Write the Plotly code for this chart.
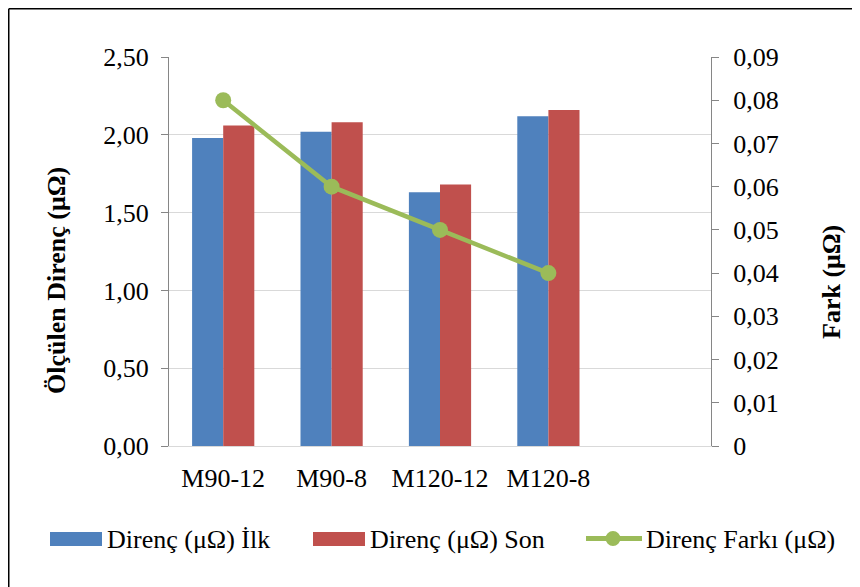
import plotly.graph_objects as go

categories = ["M90-12", "M90-8", "M120-12", "M120-8"]
ilk = [1.98, 2.02, 1.63, 2.12]
son = [2.06, 2.08, 1.68, 2.16]
fark = [0.08, 0.06, 0.05, 0.04]

series_names = ["Direnç (μΩ) İlk", "Direnç (μΩ) Son", "Direnç Farkı (μΩ)"]
series_colors = ["#4F81BD", "#C0504D", "#9BBB59"]

y_ticks = [0, 0.5, 1.0, 1.5, 2.0, 2.5]
y2_ticks = [0, 0.01, 0.02, 0.03, 0.04, 0.05, 0.06, 0.07, 0.08, 0.09]
y2_text = ["0", "0,01", "0,02", "0,03", "0,04", "0,05", "0,06", "0,07", "0,08", "0,09"]

FONT = "Liberation Serif"
FS = 26

# page body has an 8px margin; the figure is sized to fill the rest of the window
OFF = 8
W, H = 860 - OFF, 587 - OFF
# plot area in window pixels: x 169..711, y 57..446
L, R, T, B = 169 - OFF, 860 - 711, 57 - OFF, 587 - 446
pw, ph = W - L - R, H - T - B


def px(x):  # window px -> paper x
    return (x - OFF - L) / pw


def py(y):  # window px -> paper y
    return (H - B - (y - OFF)) / ph


fig = go.Figure()
fig.add_trace(go.Bar(x=categories, y=ilk, name=series_names[0],
                     marker=dict(color=series_colors[0], line=dict(width=0))))
fig.add_trace(go.Bar(x=categories, y=son, name=series_names[1],
                     marker=dict(color=series_colors[1], line=dict(width=0))))
fig.add_trace(go.Scatter(x=categories, y=fark, name=series_names[2], yaxis="y2",
                         mode="lines+markers",
                         line=dict(color=series_colors[2], width=4.5),
                         marker=dict(color=series_colors[2], size=16)))

# legend drawn as a row of keys + texts below the plot (Excel style)
shapes = [
    dict(type="line", xref="paper", yref="paper", x0=px(8.75), x1=px(875),
         y0=py(8.75), y1=py(8.75), line=dict(color="black", width=1.5)),
    dict(type="line", xref="paper", yref="paper", x0=px(8.75), x1=px(8.75),
         y0=py(8.75), y1=py(620), line=dict(color="black", width=1.5)),
    dict(type="rect", xref="paper", yref="paper", x0=px(50), x1=px(102),
         y0=py(546), y1=py(532), line=dict(width=0), fillcolor=series_colors[0]),
    dict(type="rect", xref="paper", yref="paper", x0=px(313), x1=px(365),
         y0=py(546), y1=py(532), line=dict(width=0), fillcolor=series_colors[1]),
    dict(type="line", xref="paper", yref="paper", x0=px(586), x1=px(642),
         y0=py(538.5), y1=py(538.5), line=dict(color=series_colors[2], width=5)),
    dict(type="circle", xref="paper", yref="paper", x0=px(605.5), x1=px(620.5),
         y0=py(546), y1=py(531), line=dict(width=0), fillcolor=series_colors[2]),
]

legend_text_x = [105, 368, 644]
annotations = [
    dict(text="<b>Ölçülen Direnç (μΩ)</b>", xref="paper", yref="paper",
         x=px(56), y=py(281), textangle=-90, showarrow=False,
         xanchor="center", yanchor="middle",
         font=dict(family=FONT, size=26, color="black")),
    dict(text="<b>Fark (μΩ)</b>", xref="paper", yref="paper",
         x=px(831), y=py(282), textangle=-90, showarrow=False,
         xanchor="center", yanchor="middle",
         font=dict(family=FONT, size=26, color="black")),
]
for name, tx in zip(series_names, legend_text_x):
    annotations.append(dict(text=name, xref="paper", yref="paper",
                            x=px(tx), y=py(539), showarrow=False,
                            xanchor="left", yanchor="middle",
                            font=dict(family=FONT, size=FS, color="black")))

fig.update_layout(
    width=W, height=H,
    margin=dict(l=L, r=R, t=T, b=B, autoexpand=False),
    paper_bgcolor="white", plot_bgcolor="white",
    font=dict(family=FONT, size=FS, color="black"),
    separators=",.",
    barmode="group", bargap=0.426, bargroupgap=0,
    showlegend=False,
    xaxis=dict(type="category", range=[-0.5, 4.5], showgrid=False,
               showline=True, linecolor="#d9d9d9", linewidth=1,
               ticks="", ticklabelstandoff=9, automargin=False,
               tickfont=dict(family=FONT, size=FS, color="black")),
    yaxis=dict(range=[0, 2.5], tickvals=y_ticks, tickformat=".2f",
               showgrid=True, gridcolor="#d9d9d9", gridwidth=1,
               showline=True, linecolor="#868686", linewidth=1,
               ticks="outside", ticklen=7, tickcolor="#868686", tickwidth=1,
               ticklabelstandoff=7, zeroline=False, automargin=False,
               tickfont=dict(family=FONT, size=FS, color="black")),
    yaxis2=dict(range=[0, 0.09], overlaying="y", side="right",
                tickvals=y2_ticks, ticktext=y2_text,
                showgrid=False, showline=True, linecolor="#868686", linewidth=1,
                ticks="outside", ticklen=7, tickcolor="#868686", tickwidth=1,
                ticklabelstandoff=9, zeroline=False, automargin=False,
                tickfont=dict(family=FONT, size=FS, color="black")),
    annotations=annotations,
    shapes=shapes,
)

fig.write_html("out.html")
